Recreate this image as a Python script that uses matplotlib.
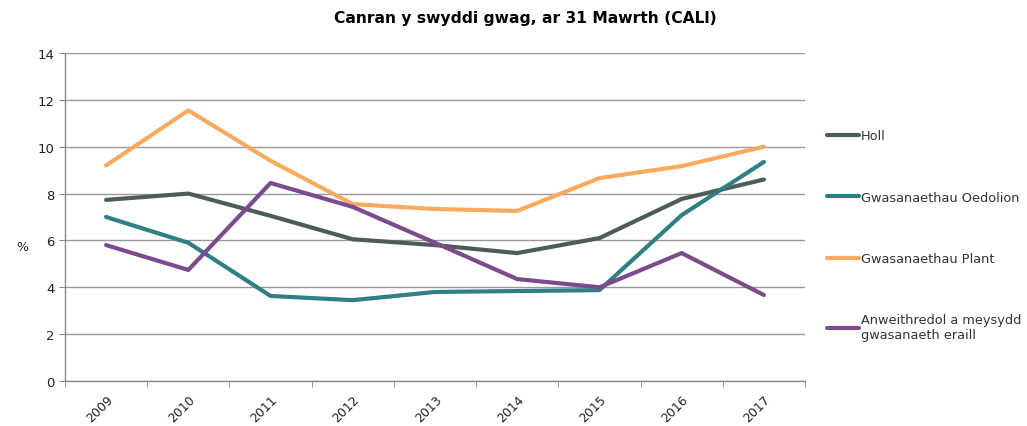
import numpy as np
import matplotlib.pyplot as plt

# data
years = ['2009', '2010', '2011', '2012', '2013', '2014', '2015', '2016', '2017']
holl = [7.73, 8.0, 7.05, 6.05, 5.8, 5.46, 6.1, 7.77, 8.6]
oedolion = [7.0, 5.9, 3.63, 3.45, 3.8, 3.84, 3.88, 7.08, 9.35]
plant = [9.2, 11.55, 9.4, 7.55, 7.34, 7.26, 8.66, 9.17, 10.0]
eraill = [5.8, 4.74, 8.45, 7.43, 5.9, 4.35, 4.0, 5.46, 3.67]

series = [
    ('Holl', holl, '#4f5b5b'),
    ('Gwasanaethau Oedolion', oedolion, '#2f7f83'),
    ('Gwasanaethau Plant', plant, '#f8ab5e'),
    ('Anweithredol a meysydd\ngwasanaeth eraill', eraill, '#7b4b8d'),
]

plt.rcParams['font.family'] = ['DejaVu Sans']
fig = plt.figure(figsize=(10.27, 4.27), dpi=100)
ax = fig.add_axes([65 / 1027, 1 - 382 / 427, 740 / 1027, 328 / 427])

x = np.arange(len(years))
for name, vals, col in series:
    ax.plot(x, vals, color=col, linewidth=3.0, label=name, solid_capstyle='round')

ax.set_xlim(-0.5, len(years) - 0.5)
ax.set_ylim(0, 14)
ax.set_yticks(np.arange(0, 15, 2))
ax.set_xticks(x)
ax.set_xticklabels(years, rotation=45, ha='right', rotation_mode='anchor', fontsize=9, color='#222222')
ax.set_xticks(np.arange(-0.5, len(years), 1), minor=True)
ax.tick_params(axis='x', which='major', length=0, pad=8)
ax.tick_params(axis='x', which='minor', length=4, color='#888888')
ax.tick_params(axis='y', length=4, color='#888888', labelsize=9.5, labelcolor='#222222')

ax.grid(axis='y', color='#999999', linewidth=1)
ax.set_axisbelow(True)
for s in ['top', 'right']:
    ax.spines[s].set_visible(False)
for s in ['left', 'bottom']:
    ax.spines[s].set_color('#888888')
    ax.spines[s].set_linewidth(1)

fig.text(22 / 1027, 1 - 248 / 427, '%', fontsize=9, ha='center', va='center', color='#222222')
fig.text(525 / 1027, 1 - 18 / 427, 'Canran y swyddi gwag, ar 31 Mawrth (CALl)',
         fontsize=11.2, fontweight='bold', ha='center', va='center')

leg = ax.legend(loc='upper left', bbox_to_anchor=(822 / 1027, 1 - 125 / 427),
                bbox_transform=fig.transFigure, frameon=False, fontsize=9.3,
                handlelength=2.5, handletextpad=0.1, labelspacing=3.75, borderaxespad=0)
for t in leg.get_texts():
    t.set_color('#333333')

fig.savefig('out.png', dpi=100)
